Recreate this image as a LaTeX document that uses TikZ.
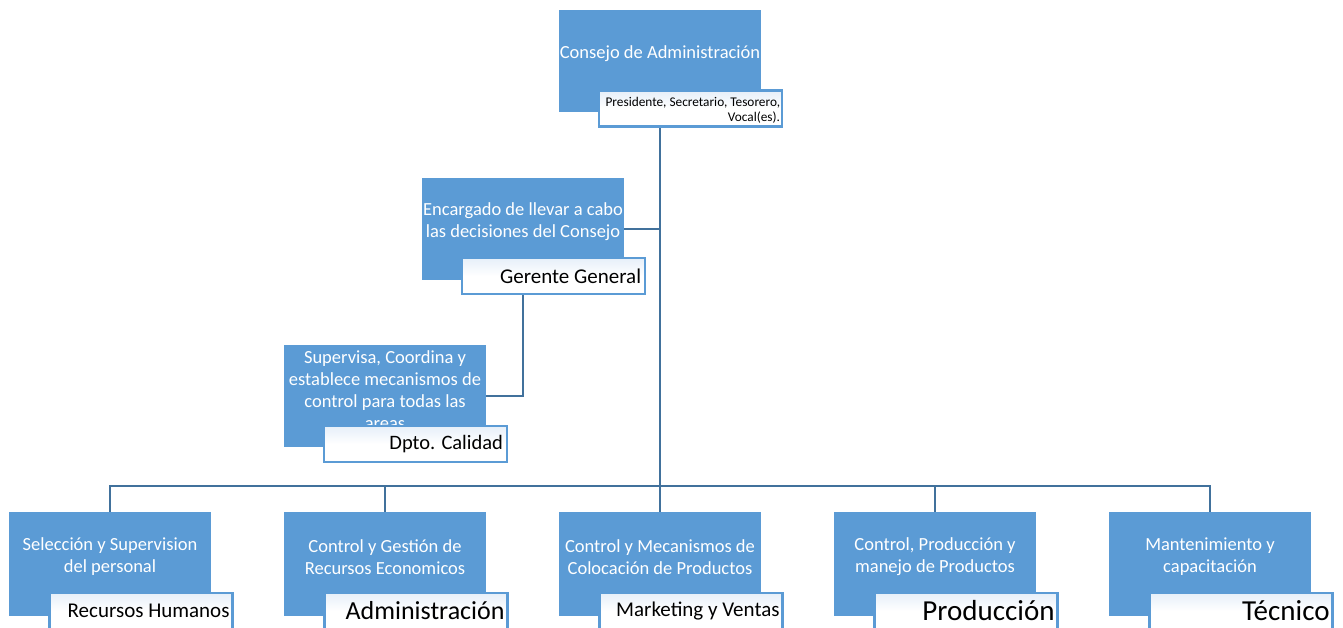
\documentclass[tikz,border=0pt]{standalone}
\usepackage{fontspec}
\setmainfont{Carlito}
\definecolor{boxblue}{HTML}{5B9BD5}
\definecolor{lineblue}{HTML}{41719C}
\definecolor{lblfill}{HTML}{E6EFF9}
\newcommand{\fsz}[1]{\fontsize{#1}{#1}\selectfont}
\begin{document}
\begin{tikzpicture}[x=1pt,y=-1pt,
  bluebox/.style={fill=boxblue, draw=none, minimum width=202pt, minimum height=102pt, inner sep=0pt},
  bluetext/.style={text=white, align=center, inner sep=0pt, font=\fontsize{18.5}{22}\selectfont},
  lbl/.style={draw=boxblue, line width=2.5pt, top color=lblfill, bottom color=white, middle color=white,
    minimum width=183pt, minimum height=36pt, inner sep=0pt},
  lbltext/.style={anchor=east, text=black, inner sep=0pt, align=right},
  conn/.style={draw=lineblue, line width=2.5pt}]
\useasboundingbox (0,0) rectangle (1343,627);

% top
\node[bluebox] (topbox) at (660,61) {};
\node[bluetext] (toptxt) at (660,54) {Consejo de Administración};
% gerente
\node[bluebox] (gerbox) at (523,229) {};
\node[bluetext] (gertxt) at (523,222) {Encargado de llevar a cabo\\las decisiones del Consejo};
% calidad
\node[bluebox] (calbox) at (385,396) {};
\node[bluetext, anchor=north] (caltxt) at (385,350) {Supervisa, Coordina y\\establece mecanismos de\\control para todas las\\areas};
% bottom
\foreach \n/\x/\t in {b1/110/{Selección y Supervision\\del personal},
                      b2/385/{Control y Gestión de\\Recursos Economicos},
                      b3/660/{Control y Mecanismos de\\Colocación de Productos},
                      b4/935/{Control, Producción y\\manejo de Productos},
                      b5/1210/{Mantenimiento y\\capacitación}}{
  \node[bluebox, minimum height=104pt] (\n) at (\x,564) {};
  \node[bluetext] (\n t) at (\x,557) {\t};
}

% connectors
\coordinate (bus) at (660,486);
\draw[conn] (topbox.south) -- (bus);
\draw[conn] (gerbox.east) -- (gerbox.east -| topbox.south);
\draw[conn] (gerbox.south) |- (calbox.east);
\draw[conn] (b1.north) |- (bus) -| (b5.north);
\draw[conn] (b2.north) -- (b2.north |- bus);
\draw[conn] (b3.north) -- (b3.north |- bus);
\draw[conn] (b4.north) -- (b4.north |- bus);

% labels
\node[lbl] (toplbl) at (690.5,108.5) {};
\node[lbltext, font=\fontsize{13.3}{15}\selectfont] (toplblt) at ([xshift=-3pt,yshift=-1.5pt]toplbl.east) {Presidente, Secretario, Tesorero,\\Vocal(es).};
\node[lbl] (gerlbl) at (553.5,276) {};
\node[lbltext, font=\fsz{21}] (gerlblt) at ([xshift=-5pt]gerlbl.east) {Gerente General};
\node[lbl] (callbl) at (415.5,444) {};
\node[lbltext, font=\fsz{20.5}] (callblt) at ([xshift=-5pt]callbl.east) {Dpto. Calidad};
\node[lbl] (l1) at (141,611) {};
\node[lbltext, font=\fsz{21}] (l1t) at ([xshift=-4pt]l1.east) {Recursos Humanos};
\node[lbl] (l2) at (416,611) {};
\node[lbltext, font=\fsz{26}] (l2t) at ([xshift=-4pt]l2.east) {Administración};
\node[lbl] (l3) at (691,611) {};
\node[lbltext, font=\fsz{21}] (l3t) at ([xshift=-4pt]l3.east) {Marketing y Ventas};
\node[lbl] (l4) at (966,611) {};
\node[lbltext, font=\fsz{29}] (l4t) at ([xshift=-4pt]l4.east) {Producción};
\node[lbl] (l5) at (1241,611) {};
\node[lbltext, font=\fsz{29}] (l5t) at ([xshift=-4pt]l5.east) {Técnico};
\end{tikzpicture}
\end{document}
